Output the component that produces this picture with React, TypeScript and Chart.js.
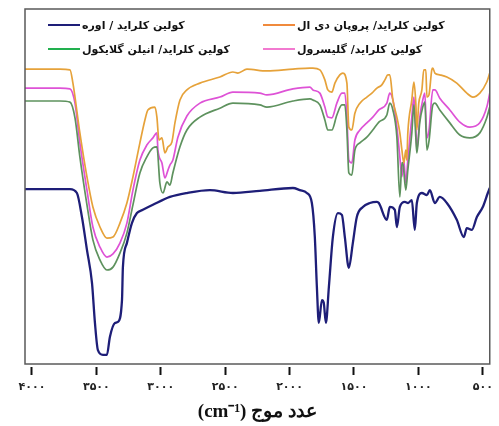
import React, { useEffect, useRef } from "react";
import { Chart, registerables } from "chart.js";

Chart.register(...registerables);

// ---- Data (wavenumber in cm-1, transmittance in arbitrary %) ----
const xTickValues = [4000, 3500, 3000, 2500, 2000, 1500, 1000, 500];

const seriesLabels = [
  "کولین کلراید / اوره",
  "کولین کلراید/ پروپان دی ال",
  "کولین کلراید/ انیلن گلایکول",
  "کولین کلراید/ گلیسرول",
];

const ureaWn = [4054, 3783, 3705, 3651, 3612, 3573, 3534, 3511, 3488, 3449, 3418, 3395, 3356, 3333, 3301, 3294, 3263, 3224, 3185, 3139, 3061, 2929, 2797, 2619, 2440, 2231, 1974, 1920, 1866, 1827, 1804, 1788, 1773, 1749, 1735, 1718, 1695, 1664, 1625, 1594, 1571, 1540, 1509, 1478, 1431, 1377, 1322, 1307, 1245, 1222, 1183, 1167, 1144, 1105, 1080, 1051, 1028, 1012, 973, 934, 911, 872, 834, 779, 702, 647, 624, 585, 546, 500, 461, 446];
const ureaT = [49.7, 49.7, 49.7, 48.6, 41.9, 32.7, 23.5, 12.3, 4.7, 3.4, 3.4, 8.4, 12.3, 12.6, 18.7, 27.9, 34.6, 40.2, 43.0, 43.9, 45.3, 47.5, 48.6, 49.4, 48.6, 49.2, 50.0, 49.4, 48.6, 45.8, 36.3, 22.3, 12.3, 18.7, 18.0, 12.3, 22.3, 36.3, 43.0, 42.5, 36.3, 27.7, 34.6, 41.9, 44.7, 45.8, 46.1, 45.8, 41.1, 44.7, 43.9, 39.1, 44.7, 46.1, 45.8, 46.6, 38.3, 45.8, 48.6, 48.0, 49.4, 45.8, 47.5, 45.8, 41.1, 36.3, 38.8, 38.3, 41.9, 44.7, 48.6, 50.0];

const propWn = [4054, 3783, 3705, 3682, 3628, 3573, 3527, 3472, 3418, 3371, 3317, 3263, 3216, 3162, 3123, 3100, 3045, 3030, 3014, 2991, 2968, 2944, 2914, 2890, 2851, 2797, 2696, 2541, 2440, 2401, 2331, 2176, 1974, 1842, 1819, 1765, 1726, 1703, 1672, 1648, 1610, 1586, 1555, 1540, 1517, 1493, 1454, 1400, 1361, 1322, 1284, 1260, 1237, 1222, 1198, 1167, 1144, 1128, 1113, 1098, 1090, 1082, 1051, 1035, 1020, 1012, 997, 973, 958, 942, 934, 918, 896, 888, 872, 834, 779, 702, 624, 577, 523, 469, 446];
const propT = [83.2, 83.2, 83.0, 79.3, 65.4, 53.1, 44.7, 39.1, 36.0, 36.3, 40.2, 45.8, 53.1, 62.6, 69.0, 71.8, 72.6, 69.8, 63.4, 64.0, 59.8, 61.5, 62.8, 68.2, 74.6, 77.4, 79.3, 81.0, 82.4, 82.1, 83.2, 82.7, 83.2, 83.5, 83.5, 83.0, 80.2, 77.4, 76.8, 79.3, 81.6, 82.1, 79.3, 67.0, 66.2, 70.9, 73.7, 75.4, 76.5, 77.9, 78.8, 80.2, 81.6, 81.6, 74.6, 69.8, 65.4, 60.6, 57.0, 60.6, 57.8, 65.4, 74.6, 79.6, 73.7, 66.2, 73.7, 77.4, 83.0, 83.0, 75.4, 76.0, 83.0, 83.5, 82.1, 81.6, 81.0, 79.3, 76.5, 75.4, 76.5, 79.6, 82.1];

const glycolWn = [4054, 3783, 3705, 3666, 3628, 3573, 3527, 3472, 3418, 3371, 3317, 3263, 3216, 3162, 3108, 3061, 3030, 3007, 2983, 2952, 2929, 2906, 2851, 2797, 2696, 2541, 2440, 2231, 2176, 1974, 1842, 1819, 1765, 1726, 1703, 1672, 1633, 1594, 1571, 1555, 1540, 1517, 1493, 1454, 1400, 1354, 1307, 1245, 1222, 1198, 1167, 1144, 1128, 1121, 1098, 1082, 1051, 1035, 1020, 1012, 989, 966, 950, 934, 918, 888, 872, 834, 756, 678, 601, 523, 469, 446];
const glycolT = [74.3, 74.3, 74.0, 69.6, 58.7, 45.3, 35.5, 29.9, 27.1, 27.9, 31.8, 37.4, 45.3, 54.2, 58.7, 61.2, 61.5, 51.4, 48.6, 51.7, 50.8, 54.2, 61.5, 66.2, 69.8, 72.3, 73.7, 73.2, 72.6, 74.3, 74.9, 74.6, 73.2, 69.0, 66.2, 66.2, 70.4, 73.2, 73.2, 66.2, 54.2, 53.6, 60.6, 62.6, 64.2, 66.2, 68.4, 70.4, 73.7, 71.8, 64.2, 47.5, 57.0, 57.0, 49.4, 55.0, 65.4, 73.2, 64.2, 59.8, 68.4, 72.6, 74.0, 60.6, 63.0, 73.2, 73.7, 71.8, 68.2, 64.8, 64.0, 65.4, 69.6, 72.6];

const glycerolWn = [4054, 3783, 3705, 3666, 3628, 3573, 3527, 3472, 3418, 3371, 3317, 3263, 3216, 3162, 3108, 3061, 3030, 3022, 2991, 2968, 2944, 2929, 2906, 2867, 2797, 2696, 2541, 2440, 2231, 2176, 1974, 1842, 1819, 1765, 1726, 1703, 1672, 1633, 1594, 1571, 1555, 1540, 1517, 1493, 1454, 1400, 1354, 1307, 1245, 1222, 1198, 1167, 1144, 1128, 1113, 1098, 1082, 1051, 1035, 1020, 1012, 989, 966, 950, 934, 918, 888, 872, 834, 756, 678, 601, 523, 469, 446];
const glycerolT = [77.9, 77.9, 77.7, 73.7, 62.6, 49.4, 39.1, 33.5, 30.7, 31.6, 34.6, 40.2, 49.4, 57.8, 62.0, 64.0, 65.4, 60.6, 57.0, 52.8, 55.0, 56.4, 57.8, 64.2, 70.1, 73.7, 75.4, 76.8, 76.5, 76.0, 77.7, 78.2, 77.4, 76.5, 72.6, 69.8, 69.6, 73.7, 76.5, 76.5, 69.8, 57.8, 57.0, 63.4, 66.2, 68.2, 69.8, 71.8, 73.7, 76.5, 74.6, 67.0, 58.7, 53.1, 57.8, 51.4, 57.8, 69.8, 75.4, 67.0, 60.6, 69.8, 74.6, 76.5, 64.0, 66.0, 77.4, 77.4, 75.1, 71.8, 68.4, 67.0, 68.2, 72.6, 76.5];

const lineColors = ["#1e1e78", "#e6a23a", "#5e925e", "#de52d6"];
const legendColors = ["#1e1e78", "#f08a3c", "#22b04f", "#f27ad0"];
const lineWidths = [2.3, 1.7, 1.7, 1.7];

const axisTitle = "(cm⁻¹) عدد موج";

const faDigits = "۰۱۲۳۴۵۶۷۸۹";
const toPersian = (v: number | string) => String(v).replace(/\d/g, (d) => faDigits[+d]);

const framePlugin = {
  id: "frameBox",
  afterDatasetsDraw(chart: any) {
    const { ctx, chartArea } = chart;
    ctx.save();
    ctx.strokeStyle = "#5a5a5a";
    ctx.lineWidth = 1.5;
    ctx.strokeRect(chartArea.left, chartArea.top, chartArea.right - chartArea.left, chartArea.bottom - chartArea.top - 3);
    ctx.restore();
  },
};

const legendPlugin = {
  id: "gridLegend",
  afterDatasetsDraw(chart: any) {
    const { ctx, chartArea } = chart;
    ctx.save();
    ctx.font = "bold 11px 'DejaVu Sans', sans-serif";
    ctx.textAlign = "left";
    ctx.textBaseline = "middle";
    seriesLabels.forEach((label, i) => {
      const col = i % 2;
      const row = Math.floor(i / 2);
      const x0 = chartArea.left + (col === 0 ? 23 : 238);
      const y0 = chartArea.top + (row === 0 ? 16 : 40);
      ctx.strokeStyle = legendColors[i];
      ctx.lineWidth = 2;
      ctx.beginPath();
      ctx.moveTo(x0, y0);
      ctx.lineTo(x0 + 32, y0);
      ctx.stroke();
      ctx.fillStyle = "#111";
      ctx.fillText(label, x0 + 34, y0 + 1);
    });
    ctx.restore();
  },
};

export default function App() {
  const canvasRef = useRef<HTMLCanvasElement | null>(null);

  useEffect(() => {
    if (!canvasRef.current) return;
    const series = [
      [ureaWn, ureaT],
      [propWn, propT],
      [glycolWn, glycolT],
      [glycerolWn, glycerolT],
    ];
    const chart = new Chart(canvasRef.current, {
      type: "line",
      data: {
        datasets: series.map(([wn, t], i) => ({
          label: seriesLabels[i],
          data: wn.map((x, k) => ({ x, y: t[k] })),
          borderColor: lineColors[i],
          backgroundColor: lineColors[i],
          borderWidth: lineWidths[i],
          pointRadius: 0,
          cubicInterpolationMode: "monotone",
          fill: false,
        })),
      },
      options: {
        animation: false,
        responsive: false,
        devicePixelRatio: 1,
        layout: { padding: { left: 25, right: 9, top: 9, bottom: 0 } },
        plugins: {
          legend: { display: false },
          tooltip: { enabled: false },
        },
        scales: {
          x: {
            type: "linear",
            reverse: true,
            min: 446,
            max: 4054,
            position: "bottom",
            afterBuildTicks: (axis: any) => {
              axis.ticks = xTickValues.map((value) => ({ value }));
            },
            afterFit: (axis: any) => {
              axis.height = 59;
            },
            grid: {
              display: true,
              drawOnChartArea: false,
              drawTicks: true,
              tickLength: 8,
              tickWidth: 2,
              tickColor: "#111",
            },
            border: { display: false },
            ticks: {
              autoSkip: false,
              maxRotation: 0,
              padding: 6,
              color: "#222",
              font: { family: "'DejaVu Sans', sans-serif", size: 11, weight: "bold" },
              callback: (v: any) => toPersian(v),
            },
            title: {
              display: true,
              text: axisTitle,
              color: "#111",
              font: { family: "'Liberation Serif', serif", size: 19, weight: "bold" },
              padding: { top: 0, bottom: 3 },
            },
          },
          y: {
            display: false,
            min: 0,
            max: 100,
          },
        },
      },
      plugins: [framePlugin, legendPlugin],
    } as any);
    return () => chart.destroy();
  }, []);

  return (
    <div style={{ position: "absolute", left: 0, top: 0, width: 499, height: 426, background: "#fff" }}>
      <canvas ref={canvasRef} width={499} height={426} style={{ display: "block" }} />
    </div>
  );
}
